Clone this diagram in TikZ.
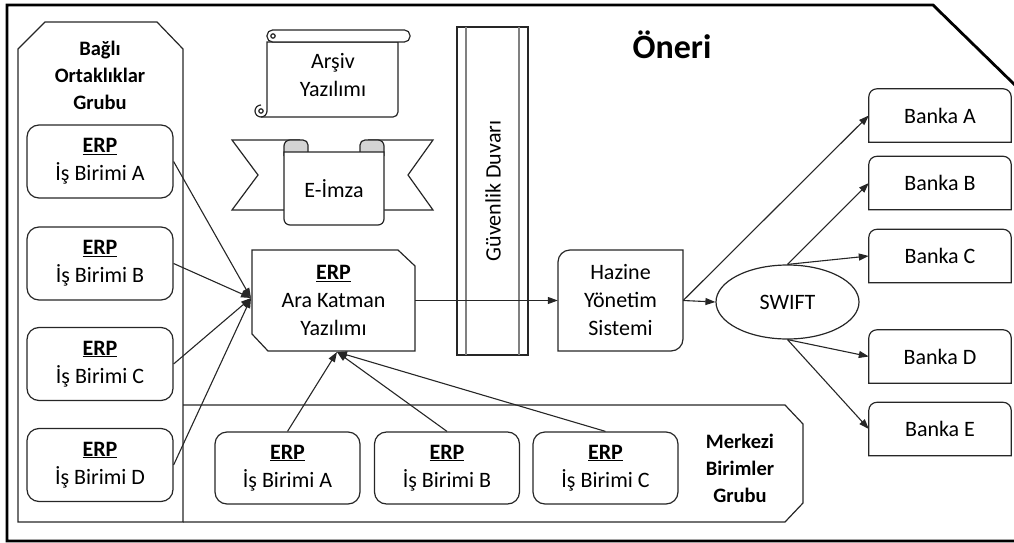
\documentclass[tikz,border=0pt]{standalone}
\usepackage{fontspec}
\setmainfont{Carlito}
\usetikzlibrary{shapes.geometric,arrows.meta,calc}
\definecolor{ink}{HTML}{262626}
\definecolor{fold}{HTML}{D4D4D4}
\newcommand\bodyfont{\fontsize{22}{28}\selectfont}
\newcommand\grpfont{\fontsize{20.5}{27}\selectfont\bfseries}
\newcommand\titlefont{\fontsize{34}{38}\selectfont\bfseries}
\newcommand\erp{\underline{\textbf{ERP}}}

\begin{document}
\begin{tikzpicture}[x=1pt,y=-1pt,
  boxline/.style={draw=ink, line width=1.2pt},
  erpbox/.style={draw=ink, line width=1.2pt, rounded corners=12pt,
    minimum width=146pt, minimum height=73pt, align=center, inner sep=0pt,
    font=\bodyfont},
  plain/.style={align=center, inner sep=0pt, font=\bodyfont},
  arr/.style={draw=ink, line width=1.1pt, -{Triangle[length=10pt,width=7pt]}}
]
\useasboundingbox (0,0) rectangle (1014,543);

% outer frame with cut corner
\draw[line width=2.8pt, black] (7,5) -- (933,5) -- (1018,88) -- (1018,541) -- (7,541) -- cycle;

% group outlines
\draw[boxline] (18,522) -- (18,49) -- (45,22) -- (157,22) -- (183,49) -- (183,522) -- cycle;
\draw[boxline] (183,405) -- (785,405) -- (803,424) -- (803,503) -- (785,522) -- (183,522);

\node[font=\grpfont, align=center, inner sep=0pt] (gL) at (100,75) {Bağlı\\Ortaklıklar\\Grubu};
\node[font=\grpfont, align=center, inner sep=0pt] (gM) at (740,468) {Merkezi\\Birimler\\Grubu};
\node[font=\titlefont, inner sep=0pt] (title) at (672,45) {Öneri};

% subsidiary ERP units
\node[erpbox] (lA) at (100,161.5) {\erp\\İş Birimi A};
\node[erpbox] (lB) at (100,263.5) {\erp\\İş Birimi B};
\node[erpbox] (lC) at (100,364) {\erp\\İş Birimi C};
\node[erpbox] (lD) at (100,465) {\erp\\İş Birimi D};

% central ERP units
\node[erpbox, minimum width=145pt, minimum height=72pt] (mA) at (287.5,468) {\erp\\İş Birimi A};
\node[erpbox, minimum width=145pt, minimum height=72pt] (mB) at (447,468) {\erp\\İş Birimi B};
\node[erpbox, minimum width=145pt, minimum height=72pt] (mC) at (605.5,468) {\erp\\İş Birimi C};

% archive software scroll
\draw[boxline, fill=white] (261,117) -- (393,117) arc[start angle=-90,end angle=0,radius=5pt] -- (398,42) -- (267,42) -- (267,111);
\draw[boxline, fill=white, rounded corners=5.5pt] (267,30) rectangle (410,42);
\draw[boxline] (267,111) arc[start angle=0,end angle=-270,radius=6pt];
\draw[boxline] (261,111) circle[radius=2.2pt];
\draw[boxline] (273,36) circle[radius=2.2pt];
\node[plain] (arsiv) at (333,75) {Arşiv\\Yazılımı};

% e-signature ribbon
\draw[boxline, fill=white] (290,210) -- (232,210) -- (258,175) -- (232,140) -- (300,140);
\draw[boxline, fill=white] (378,210) -- (433,210) -- (408,175) -- (433,140) -- (368,140);
\draw[boxline, fill=fold] (284,156) -- (284,146) arc[start angle=180,end angle=90,radius=6pt] -- (303,140) arc[start angle=90,end angle=0,radius=5pt] -- (308,156);
\draw[boxline, fill=fold] (360,156) -- (360,145) arc[start angle=180,end angle=90,radius=5pt] -- (378,140) arc[start angle=90,end angle=0,radius=6pt] -- (384,156);
\draw[boxline, fill=white] (284,152) -- (284,219) arc[start angle=180,end angle=270,radius=6pt] -- (378,225) arc[start angle=270,end angle=360,radius=6pt] -- (384,152) -- cycle;
\node[plain] (imza) at (334,189) {E-İmza};

% middleware
\draw[boxline] (252,250) -- (398,250) -- (415,266) -- (415,351) -- (268,351) -- (252,334) -- cycle;
\node[plain, minimum width=163pt, minimum height=101pt] (ara) at (333.5,300.5) {\erp\\Ara Katman\\Yazılımı};

% firewall
\draw[boxline] (457,27) rectangle (528,355);
\draw[draw=gray, line width=1.6pt] (466,27) -- (466,355);
\draw[draw=gray, line width=1.6pt] (519,27) -- (519,355);
\node[plain, rotate=90] (fw) at (493,191) {Güvenlik Duvarı};

% treasury system: rounded top-left and bottom-right corners
\draw[boxline] (570,250) -- (683,250) -- (683,339) arc[start angle=0,end angle=-90,radius=12pt] -- (558,351) -- (558,262) arc[start angle=180,end angle=90,radius=12pt] -- cycle;
\node[plain, minimum width=125pt, minimum height=101pt] (hz) at (620.5,300.5) {Hazine\\Yönetim\\Sistemi};

% SWIFT
\node[draw=ink, line width=1.2pt, ellipse, minimum width=143pt, minimum height=74pt, font=\bodyfont, inner sep=0pt] (sw) at (787.5,302) {SWIFT};

% banks: rounded top corners only
\foreach \n/\t/\y in {bA/Banka A/115.5, bB/Banka B/183, bC/Banka C/256, bD/Banka D/356.5, bE/Banka E/429}{
  \node[plain, minimum width=142pt, minimum height=53pt] (\n) at (940,\y) {\t};
  \draw[boxline] (\n.south west) -- ([yshift=-8pt]\n.north west) arc[start angle=180,end angle=90,radius=8pt]
    -- ([xshift=-8pt]\n.north east) arc[start angle=90,end angle=0,radius=8pt] -- (\n.south east) -- cycle;
}

% connectors
\coordinate (aL) at (251,298);
\coordinate (aB) at (337,352);
\foreach \s in {lA,lB,lC,lD} \draw[arr] (\s.east) -- (aL);
\foreach \s in {mA,mB,mC} \draw[arr] (\s.north) -- (aB);
\draw[arr] (ara.east) -- (hz.west);
\draw[arr] (hz.east) -- (sw.west);
\draw[arr] (hz.east) -- (bA.west);
\draw[arr] (sw.north) -- (bB.west);
\draw[arr] (sw.north) -- (bC.west);
\draw[arr] (sw.south) -- (bD.west);
\draw[arr] (sw.south) -- (bE.west);
\end{tikzpicture}
\end{document}
